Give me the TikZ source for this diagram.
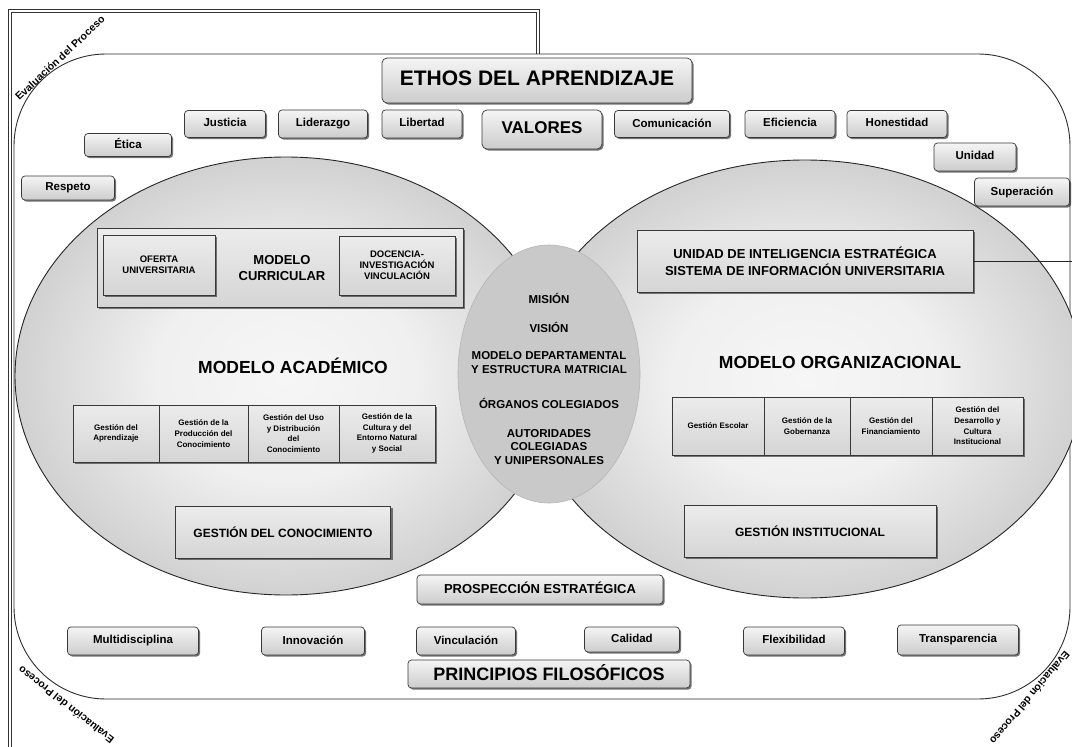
\documentclass[tikz,border=0pt]{standalone}
\usepackage{fontspec}
\setmainfont{Liberation Sans}
\usetikzlibrary{shapes.geometric,shadows}
\pgfdeclareradialshading{circshade}{\pgfpoint{0bp}{0bp}}{color(0bp)=(gray!7); color(12bp)=(gray!12); color(25bp)=(gray!36); color(50bp)=(gray!36)}
\begin{document}
\begin{tikzpicture}[x=1pt,y=-1pt,
  fs/.style 2 args={font=\fontsize{#1}{#2}\selectfont\bfseries},
  vbox/.style={draw=gray!45!black, line width=0.7pt, rounded corners=3.5pt,
    top color=gray!8, bottom color=gray!40,
    drop shadow={shadow xshift=1.6pt, shadow yshift=-1.6pt, fill=black, opacity=0.55},
    inner sep=1pt, align=center, fs={11.5}{13}, execute at begin node={\vphantom{Hg}}},
  sbox/.style={draw=gray!45!black, line width=0.6pt,
    top color=gray!15, bottom color=gray!33,
    drop shadow={shadow xshift=2pt, shadow yshift=-2pt, fill=black, opacity=0.5},
    inner sep=1pt, align=center},
  gbox/.style={sbox, fs={8}{10.7}},
  bigc/.style={ellipse, draw=gray!30!black, line width=0.9pt, shade, shading=circshade, inner sep=0pt},
  lbl/.style={align=center, inner sep=0pt},
  evl/.style={fs={10.5}{12}, inner sep=0pt},
  outl/.style={draw=gray!35!black, line width=0.9pt},
  conn/.style={draw=gray!30!black, line width=0.9pt}]
\useasboundingbox (0,0) rectangle (1072,747);
\fill[white] (0,0) rectangle (1072,747);
% outer frame
\draw[gray!40!black, line width=0.6pt, double=white, double distance=2.6pt] (538,54) -- (538,11) -- (10,11) -- (10,760);
% rounded field
\draw[outl, fill=white, rounded corners=92pt] (14,54) rectangle (1070,699);
% evaluation labels
\node[evl, rotate=43] (ev1) at (60,58) {Evaluación del Proceso};
\node[evl, rotate=142] (ev2) at (66,705) {Evaluación del Proceso};
\node[evl, rotate=230] (ev3) at (1030,698) {Evaluación del Proceso};
% big circles
\node[bigc, minimum width=542pt, minimum height=438pt] (acad) at (286,376) {};
\node[bigc, minimum width=556pt, minimum height=438pt] (org) at (805,379) {};
\node[ellipse, fill=gray!42, draw=gray!58, line width=0.6pt, minimum width=182pt, minimum height=258pt, inner sep=0pt] (oval) at (549,374) {};
% top values
\node[vbox, fs={21}{24}, rounded corners=5pt, minimum width=310pt, minimum height=45pt] (ethos) at (537,80.5) {ETHOS DEL APRENDIZAJE};
\node[vbox, fs={17}{20}, rounded corners=5pt, minimum width=120pt, minimum height=39pt] (valores) at (542,129.5) {VALORES};
\node[vbox, minimum width=81pt, minimum height=27pt] (justicia) at (225,124) {Justicia};
\node[vbox, minimum width=89pt, minimum height=28pt] (liderazgo) at (323,124) {Liderazgo};
\node[vbox, minimum width=80pt, minimum height=28pt] (libertad) at (422,124) {Libertad};
\node[vbox, minimum width=87pt, minimum height=23pt] (etica) at (128,145) {Ética};
\node[vbox, minimum width=93pt, minimum height=24pt] (respeto) at (68,188) {Respeto};
\node[vbox, minimum width=115pt, minimum height=27pt] (comunicacion) at (672,124) {Comunicación};
\node[vbox, minimum width=90pt, minimum height=27pt] (eficiencia) at (790,124) {Eficiencia};
\node[vbox, minimum width=100pt, minimum height=27pt] (honestidad) at (897,124) {Honestidad};
\node[vbox, minimum width=82pt, minimum height=28pt] (unidad) at (975,157) {Unidad};
\node[vbox, minimum width=95pt, minimum height=28pt] (superacion) at (1022,192) {Superación};
% academic model
\node[sbox, minimum width=366pt, minimum height=79pt] (curr) at (280,267.5) {};
\node[sbox, fs={9.5}{11}, minimum width=112pt, minimum height=60pt] (oferta) at (159,265) {OFERTA\\UNIVERSITARIA};
\node[lbl, fs={13}{16}] (curric) at (282,268) {MODELO\\CURRICULAR};
\node[sbox, fs={9.5}{11}, minimum width=116pt, minimum height=59pt] (docencia) at (397,265.5) {DOCENCIA-\\INVESTIGACIÓN\\VINCULACIÓN};
\node[lbl, fs={17.5}{20}] (macad) at (293,366) {MODELO ACADÉMICO};
\node[gbox, minimum width=86pt, minimum height=57pt] (ga1) at (116,433.5) {Gestión del\\Aprendizaje};
\node[gbox, minimum width=89pt, minimum height=57pt] (ga2) at (203.5,433.5) {Gestión de la\\Producción del\\Conocimiento};
\node[gbox, minimum width=91pt, minimum height=57pt] (ga3) at (293.5,433.5) {Gestión del Uso\\y Distribución\\del\\Conocimiento};
\node[gbox, minimum width=96pt, minimum height=57pt] (ga4) at (387,433.5) {Gestión de la\\Cultura y del\\Entorno Natural\\y Social};
\node[sbox, fs={12}{14}, minimum width=215pt, minimum height=52pt] (gcon) at (283,532) {GESTIÓN DEL CONOCIMIENTO};
% organisational model
\node[sbox, fs={13}{17}, minimum width=336pt, minimum height=62pt] (uie) at (805,261) {UNIDAD DE INTELIGENCIA ESTRATÉGICA\\SISTEMA DE INFORMACIÓN UNIVERSITARIA};
\coordinate (rim) at (1072,261);
\draw[conn] (uie.east) -- (rim);
\node[lbl, fs={17.5}{20}] (morg) at (840,362) {MODELO ORGANIZACIONAL};
\node[gbox, minimum width=92pt, minimum height=58pt] (go1) at (718,426) {Gestión Escolar};
\node[gbox, minimum width=86pt, minimum height=58pt] (go2) at (807,426) {Gestión de la\\Gobernanza};
\node[gbox, minimum width=82pt, minimum height=58pt] (go3) at (891,426) {Gestión del\\Financiamiento};
\node[gbox, minimum width=91pt, minimum height=58pt] (go4) at (977.5,426) {Gestión del\\Desarrollo y\\Cultura\\Institucional};
\node[sbox, fs={12}{14}, minimum width=252pt, minimum height=52pt] (ginst) at (810,531) {GESTIÓN INSTITUCIONAL};
% centre oval
\node[lbl, fs={11.5}{14}] (mision) at (549,298) {MISIÓN};
\node[lbl, fs={11.5}{14}] (vision) at (549,327) {VISIÓN};
\node[lbl, fs={11.5}{14}] (mdep) at (549,363) {MODELO DEPARTAMENTAL\\Y ESTRUCTURA MATRICIAL};
\node[lbl, fs={11.5}{14}] (organos) at (549,403) {ÓRGANOS COLEGIADOS};
\node[lbl, fs={11.5}{13.5}] (autor) at (549,447) {AUTORIDADES\\COLEGIADAS\\Y UNIPERSONALES};
% bottom
\node[vbox, fs={13}{15}, minimum width=246pt, minimum height=29pt] (prosp) at (540,589.5) {PROSPECCIÓN ESTRATÉGICA};
\node[vbox, minimum width=131pt, minimum height=28pt] (multi) at (133,641) {Multidisciplina};
\node[vbox, minimum width=103pt, minimum height=28pt] (innov) at (313,641) {Innovación};
\node[vbox, minimum width=99pt, minimum height=28pt] (vinc) at (466,641) {Vinculación};
\node[vbox, minimum width=95pt, minimum height=25pt] (calidad) at (632,639.5) {Calidad};
\node[vbox, minimum width=101pt, minimum height=28pt] (flex) at (794,641) {Flexibilidad};
\node[vbox, minimum width=121pt, minimum height=30pt] (transp) at (958,640) {Transparencia};
\node[vbox, fs={18}{20}, minimum width=282pt, minimum height=28pt] (princ) at (549,674) {PRINCIPIOS FILOSÓFICOS};
\end{tikzpicture}
\end{document}
